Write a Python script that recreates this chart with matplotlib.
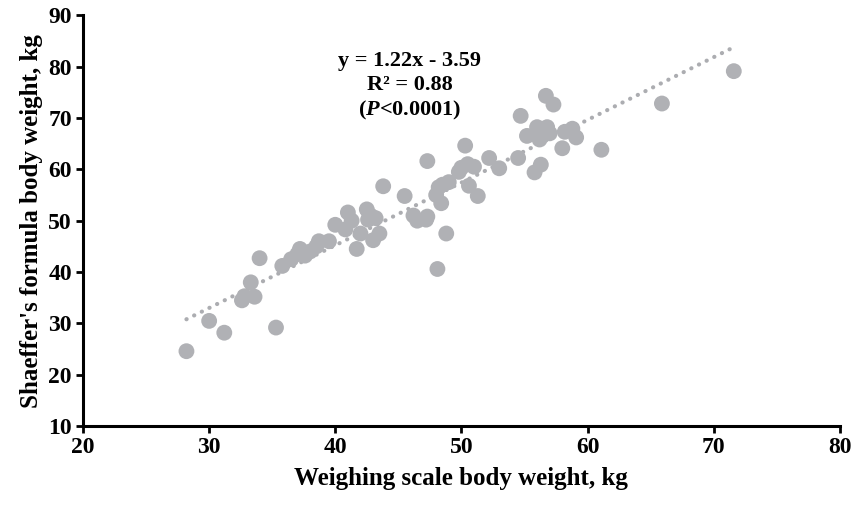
import matplotlib.pyplot as plt
import numpy as np

plt.rcParams['font.family'] = ['Liberation Serif', 'DejaVu Serif']
plt.rcParams['font.weight'] = 'bold'
plt.rcParams['mathtext.fontset'] = 'custom'
plt.rcParams['mathtext.rm'] = 'Liberation Serif'
plt.rcParams['mathtext.it'] = 'Liberation Serif:italic'
plt.rcParams['mathtext.bf'] = 'Liberation Serif:bold'
plt.rcParams['mathtext.bfit'] = 'Liberation Serif:italic:bold'

# weighing scale body weight (kg)
scale_wt = [28.2, 30.0, 31.2, 32.6, 32.8, 33.3, 33.6, 34.0, 35.3, 35.8,
            36.5, 37.0, 37.2, 37.6, 38.0, 38.5, 38.7, 39.5, 40.0, 40.8,
            41.0, 41.3, 41.7, 42.0, 42.5, 42.6, 42.8, 43.0, 43.2, 43.5,
            43.8, 45.5, 46.2, 46.5, 47.2, 47.3, 47.3, 48.0, 48.1, 48.2,
            48.4, 48.5, 48.8, 49.0, 49.8, 50.0, 50.3, 50.5, 50.6, 51.0,
            51.3, 52.2, 53.0, 54.5, 54.7, 55.2, 55.8, 56.0, 56.2, 56.3,
            56.7, 56.8, 57.0, 57.3, 58.0, 58.2, 58.8, 59.1, 61.1, 65.9,
            71.6]
# Shaeffer's formula body weight (kg)
formula_wt = [24.6, 30.5, 28.2, 34.5, 35.3, 38.0, 35.2, 42.7, 29.2, 41.2,
              42.5, 43.5, 44.5, 43.2, 44.0, 45.0, 46.0, 46.0, 49.2, 48.3,
              51.6, 50.0, 44.5, 47.5, 52.2, 50.2, 51.0, 46.2, 50.5, 47.5,
              56.7, 54.8, 51.0, 50.0, 50.2, 50.8, 61.6, 55.0, 40.6, 56.5,
              53.4, 57.0, 47.5, 57.5, 59.5, 60.3, 64.6, 61.0, 56.8, 60.5,
              54.8, 62.2, 60.2, 62.2, 70.4, 66.5, 59.4, 68.2, 65.8, 60.9,
              74.3, 68.2, 67.0, 72.6, 64.1, 67.3, 67.9, 66.2, 63.8, 72.8,
              79.1]
slope, intercept = 1.22, -3.59

fig, ax = plt.subplots(figsize=(8.56, 5.05), dpi=100)
fig.subplots_adjust(left=0.097, right=0.981, top=0.97, bottom=0.156)

ax.scatter(scale_wt, formula_wt, s=130, color='#b0b1b5', edgecolors='none', zorder=3)

xl = np.array([min(scale_wt), max(scale_wt)])
ax.plot(xl, slope * xl + intercept, color='#acadb1', lw=3, linestyle=(0, (0.05, 2.0)),
        dash_capstyle='round', zorder=2)

ax.text(45.9, 83.0, 'y = 1.22x - 3.59\nR² = 0.88\n($\\bfit{P}$<0.0001)', ha='center', va='top',
        fontsize=16, fontweight='bold', linespacing=1.25)

ax.set_xlim(20, 80)
ax.set_ylim(10, 90)
ax.set_xticks(range(20, 81, 10))
ax.set_yticks(range(10, 91, 10))
for s in ['top', 'right']:
    ax.spines[s].set_visible(False)
for s in ['left', 'bottom']:
    ax.spines[s].set_linewidth(2.2)
ax.tick_params(width=2, length=5, labelsize=17, direction='out', pad=3)
for lab in ax.get_xticklabels() + ax.get_yticklabels():
    lab.set_fontweight('bold')

ax.set_xlabel('Weighing scale body weight, kg', fontsize=18, fontweight='bold', labelpad=6)
ax.set_ylabel("Shaeffer's formula body weight, kg", fontsize=18, fontweight='bold', labelpad=4)

fig.savefig('out.png', dpi=100)
